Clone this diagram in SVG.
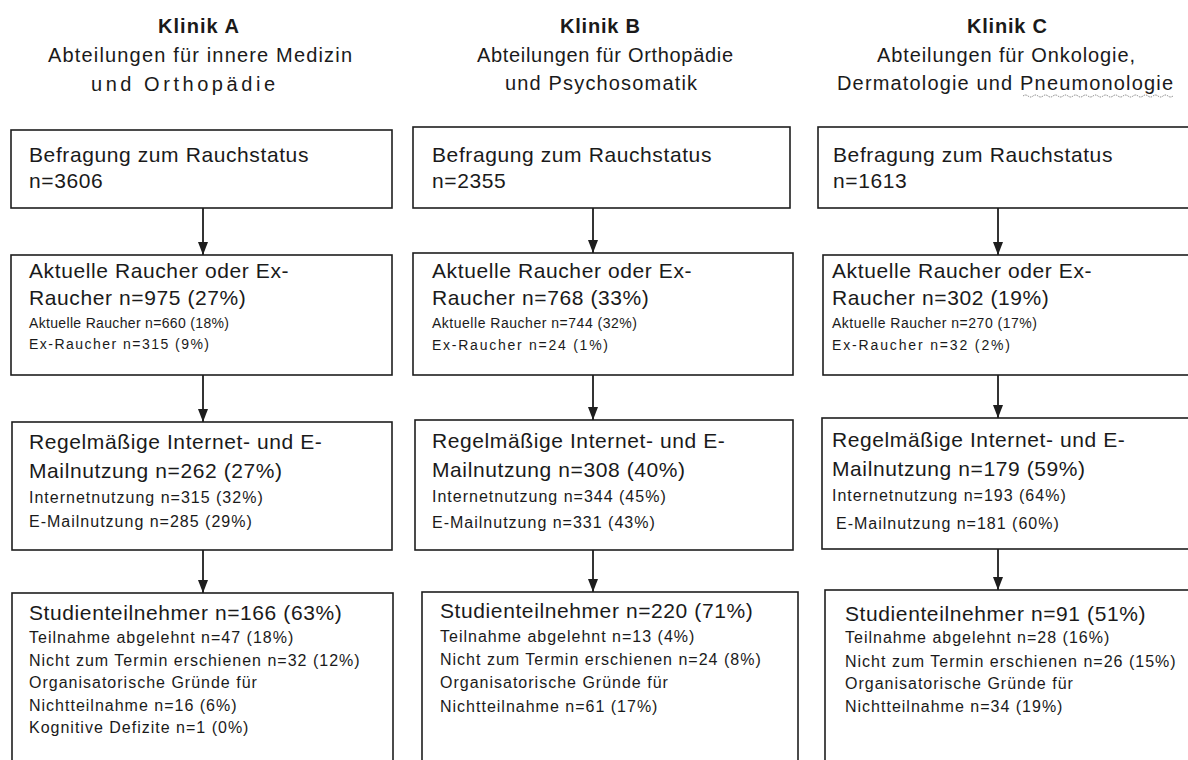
<svg xmlns="http://www.w3.org/2000/svg" width="1188" height="760" viewBox="0 0 1188 760">
<style>
text{font-family:"Liberation Sans",Arial,sans-serif;fill:#1a1a1a}
.h{font-size:20px;font-weight:bold}
.s{font-size:20px}
.m{font-size:21px;letter-spacing:0.6px}
.d{font-size:14px}
.e{font-size:16px;letter-spacing:1px}
.box{fill:#fff;stroke:#1e1e1e;stroke-width:1.6}
.con{stroke:#1e1e1e;stroke-width:1.8;fill:none}
</style>
<defs>
<marker id="ah" markerWidth="13" markerHeight="10" refX="13" refY="5" orient="auto" markerUnits="userSpaceOnUse" viewBox="0 0 13 10">
<path d="M0,0 L13,5 L0,10 Z" fill="#1e1e1e"/>
</marker>
</defs>
<rect width="1188" height="760" fill="#fff"/>

<g id="headers">
<g id="head-a">
<text class="h" x="158" y="33" textLength="81" lengthAdjust="spacing">Klinik A</text>
<text class="s" x="48" y="62" textLength="304" lengthAdjust="spacing">Abteilungen für innere Medizin</text>
<text class="s" x="91" y="91" textLength="184" lengthAdjust="spacing">und Orthopädie</text>
</g>
<g id="head-b">
<text class="h" x="560" y="33" textLength="80" lengthAdjust="spacing">Klinik B</text>
<text class="s" x="477" y="62" textLength="256" lengthAdjust="spacing">Abteilungen für Orthopädie</text>
<text class="s" x="505" y="90" textLength="192" lengthAdjust="spacing">und Psychosomatik</text>
</g>
<g id="head-c">
<text class="h" x="967" y="33" textLength="80" lengthAdjust="spacing">Klinik C</text>
<text class="s" x="877" y="62" textLength="258" lengthAdjust="spacing">Abteilungen für Onkologie,</text>
<text class="s" x="837" y="90" textLength="336" lengthAdjust="spacing">Dermatologie und Pneumonologie</text>
<path d="M1023,96 q2.5,-2 5,0 t5,0 t5,0 t5,0 t5,0 t5,0 t5,0 t5,0 t5,0 t5,0 t5,0 t5,0 t5,0 t5,0 t5,0 t5,0 t5,0 t5,0 t5,0 t5,0 t5,0 t5,0 t5,0 t5,0 t5,0 t5,0 t5,0 t5,0 t5,0 t5,0" fill="none" stroke="#777" stroke-width="0.9" stroke-dasharray="1.5 1"/>
</g>
</g>

<g id="connectors">
<line class="con" x1="203" y1="208" x2="203" y2="255" marker-end="url(#ah)"/>
<line class="con" x1="203" y1="375" x2="203" y2="422" marker-end="url(#ah)"/>
<line class="con" x1="203" y1="550" x2="203" y2="593" marker-end="url(#ah)"/>
<line class="con" x1="593" y1="208" x2="593" y2="253" marker-end="url(#ah)"/>
<line class="con" x1="593" y1="375" x2="593" y2="420" marker-end="url(#ah)"/>
<line class="con" x1="593" y1="550" x2="593" y2="592" marker-end="url(#ah)"/>
<line class="con" x1="998" y1="208" x2="998" y2="255" marker-end="url(#ah)"/>
<line class="con" x1="998" y1="375" x2="998" y2="418" marker-end="url(#ah)"/>
<line class="con" x1="998" y1="549" x2="998" y2="590" marker-end="url(#ah)"/>
</g>

<g id="a1">
<rect class="box" x="11" y="130" width="381" height="78"/>
<text class="m" x="29" y="162">Befragung zum Rauchstatus</text>
<text class="m" x="29" y="188">n=3606</text>
</g>
<g id="a2">
<rect class="box" x="11" y="255" width="381" height="120"/>
<text class="m" x="29" y="278">Aktuelle Raucher oder Ex-</text>
<text class="m" x="29" y="305">Raucher n=975 (27%)</text>
<text class="d" x="29" y="328" textLength="200" lengthAdjust="spacing">Aktuelle Raucher n=660 (18%)</text>
<text class="d" x="29" y="349" textLength="180" lengthAdjust="spacing">Ex-Raucher n=315 (9%)</text>
</g>
<g id="a3">
<rect class="box" x="12" y="422" width="380" height="128"/>
<text class="m" x="29" y="449">Regelmäßige Internet- und E-</text>
<text class="m" x="29" y="478">Mailnutzung n=262 (27%)</text>
<text class="e" x="29" y="503">Internetnutzung n=315 (32%)</text>
<text class="e" x="29" y="527">E-Mailnutzung n=285 (29%)</text>
</g>
<g id="a4">
<rect class="box" x="12" y="593" width="381" height="180"/>
<text class="m" x="29" y="620">Studienteilnehmer n=166 (63%)</text>
<text class="e" x="29" y="643">Teilnahme abgelehnt n=47 (18%)</text>
<text class="e" x="29" y="666">Nicht zum Termin erschienen n=32 (12%)</text>
<text class="e" x="29" y="688">Organisatorische Gründe für</text>
<text class="e" x="29" y="711">Nichtteilnahme n=16 (6%)</text>
<text class="e" x="29" y="733">Kognitive Defizite n=1 (0%)</text>
</g>

<g id="b1">
<rect class="box" x="413" y="127" width="377" height="81"/>
<text class="m" x="432" y="162">Befragung zum Rauchstatus</text>
<text class="m" x="432" y="188">n=2355</text>
</g>
<g id="b2">
<rect class="box" x="413" y="253" width="380" height="122"/>
<text class="m" x="432" y="278">Aktuelle Raucher oder Ex-</text>
<text class="m" x="432" y="305">Raucher n=768 (33%)</text>
<text class="d" x="432" y="328" textLength="205" lengthAdjust="spacing">Aktuelle Raucher n=744 (32%)</text>
<text class="d" x="432" y="350" textLength="176" lengthAdjust="spacing">Ex-Raucher n=24 (1%)</text>
</g>
<g id="b3">
<rect class="box" x="415" y="420" width="378" height="130"/>
<text class="m" x="432" y="448">Regelmäßige Internet- und E-</text>
<text class="m" x="432" y="477">Mailnutzung n=308 (40%)</text>
<text class="e" x="432" y="502">Internetnutzung n=344 (45%)</text>
<text class="e" x="432" y="528">E-Mailnutzung n=331 (43%)</text>
</g>
<g id="b4">
<rect class="box" x="422" y="592" width="376" height="180"/>
<text class="m" x="440" y="618">Studienteilnehmer  n=220 (71%)</text>
<text class="e" x="440" y="642">Teilnahme abgelehnt n=13 (4%)</text>
<text class="e" x="440" y="665">Nicht zum Termin erschienen n=24 (8%)</text>
<text class="e" x="440" y="688">Organisatorische Gründe für</text>
<text class="e" x="440" y="712">Nichtteilnahme n=61 (17%)</text>
</g>

<g id="c1">
<rect class="box" x="818" y="127" width="380" height="81"/>
<text class="m" x="833" y="162">Befragung zum Rauchstatus</text>
<text class="m" x="833" y="188">n=1613</text>
</g>
<g id="c2">
<rect class="box" x="823" y="255" width="380" height="120"/>
<text class="m" x="832" y="278">Aktuelle Raucher oder Ex-</text>
<text class="m" x="832" y="305">Raucher n=302 (19%)</text>
<text class="d" x="832" y="328" textLength="205" lengthAdjust="spacing">Aktuelle Raucher n=270 (17%)</text>
<text class="d" x="832" y="350" textLength="178" lengthAdjust="spacing">Ex-Raucher n=32 (2%)</text>
</g>
<g id="c3">
<rect class="box" x="822" y="418" width="380" height="131"/>
<text class="m" x="832" y="447">Regelmäßige Internet- und E-</text>
<text class="m" x="832" y="476">Mailnutzung n=179 (59%)</text>
<text class="e" x="832" y="501">Internetnutzung n=193 (64%)</text>
<text class="e" x="836" y="529">E-Mailnutzung n=181 (60%)</text>
</g>
<g id="c4">
<rect class="box" x="825" y="590" width="380" height="180"/>
<text class="m" x="845" y="621">Studienteilnehmer  n=91 (51%)</text>
<text class="e" x="845" y="643">Teilnahme abgelehnt n=28 (16%)</text>
<text class="e" x="845" y="667">Nicht zum Termin erschienen n=26 (15%)</text>
<text class="e" x="845" y="689">Organisatorische Gründe für</text>
<text class="e" x="845" y="712">Nichtteilnahme n=34 (19%)</text>
</g>
</svg>
